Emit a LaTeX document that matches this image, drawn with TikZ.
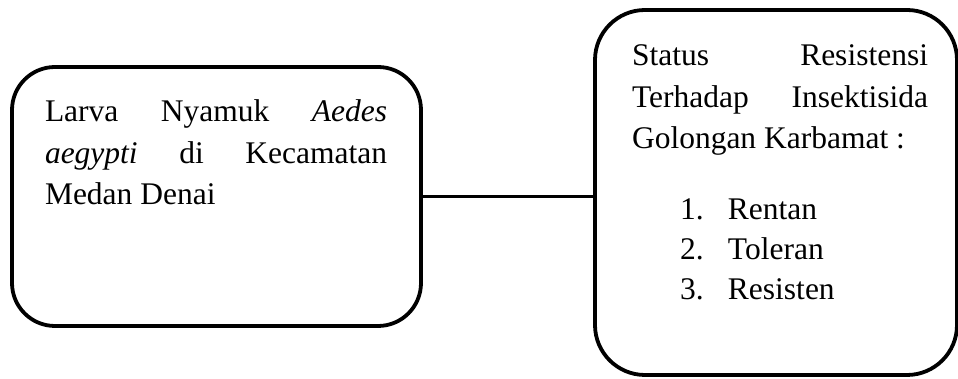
\documentclass[tikz,border=0pt]{standalone}
\usepackage{fontspec}
\setmainfont{Liberation Serif}
\newcommand{\bigtxt}{\fontsize{31.5pt}{41.5pt}\selectfont}
\newcommand{\listtxt}{\fontsize{31.5pt}{40pt}\selectfont}
\begin{document}
\begin{tikzpicture}[x=1pt,y=1pt,
  boxstyle/.style={draw=black, line width=3.8pt, rounded corners=#1, inner sep=0pt, outer sep=0pt},
  txt/.style={anchor=base west, inner sep=0pt, outer sep=0pt},
  conn/.style={draw=black, line width=3.2pt}]
\useasboundingbox (0,0) rectangle (958,379);
\node[boxstyle=43pt, minimum width=409pt, minimum height=259pt] (lbox) at (216.5,182.5) {};
\node[boxstyle=50pt, minimum width=362pt, minimum height=365pt] (rbox) at (776,186.5) {};
\draw[conn] (lbox.east) -- (lbox.east -| rbox.west);
\node[txt] (ltext) at (45,257) {\parbox[t]{342pt}{\bigtxt
  Larva\hfill Nyamuk\hfill \textit{Aedes}\\
  \textit{aegypti}\hfill di\hfill Kecamatan\\
  Medan Denai}};
\node[txt] (rtext) at (632,313) {\parbox[t]{296pt}{\bigtxt
  Status\hfill Resistensi\\
  Terhadap\hfill Insektisida\\
  Golongan Karbamat :\hfill\null}};
\node[txt] (rlist) at (680,159) {\parbox[t]{240pt}{\listtxt
  \makebox[48pt][l]{1.}Rentan\\
  \makebox[48pt][l]{2.}Toleran\\
  \makebox[48pt][l]{3.}Resisten}};
\end{tikzpicture}
\end{document}
